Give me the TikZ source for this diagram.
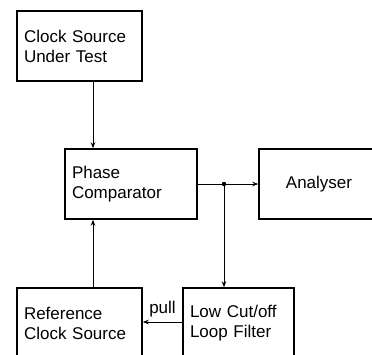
\documentclass[tikz,border=0pt]{standalone}
\usepackage{fontspec}
\setmainfont{Liberation Sans}
\usetikzlibrary{arrows.meta}

\begin{document}
\begin{tikzpicture}[
            x=1pt, y=-1pt,
            blocknode/.style={draw=black, line width=1.5pt, minimum height=70pt, inner xsep=7pt,
                font=\fontsize{17}{20}\selectfont, align=left},
            signal/.style={color=black, line width=0.8pt, -{Stealth[length=6pt, width=4.5pt]}},
            junction/.style={circle, fill=black, inner sep=0pt, minimum size=4.5pt}
        ]
            \useasboundingbox (0, 0) rectangle (372, 354);
            \clip (0, 0) rectangle (372, 354);

            % blocks
            \node[blocknode, text width=111pt] (clock) at (79.5, 46) {Clock Source\\Under Test};
            \node[blocknode, text width=118pt] (phase) at (131, 184) {Phase\\Comparator};
            \node[blocknode, text width=106pt, align=center] (analyser) at (319, 184) {Analyser};
            \node[blocknode, text width=111pt] (reference) at (79.5, 323) {Reference\\Clock Source};
            \node[blocknode, text width=97pt] (filter) at (238.5, 323) {Low Cut/off\\Loop Filter};

            % branch point
            \node[junction] (split) at (224, 184) {};

            % signals
            \draw[signal] ([xshift=13.5pt]clock.south) -- ([xshift=13.5pt]clock.south |- phase.north);
            \draw[signal] ([xshift=13.5pt]reference.north) -- ([xshift=13.5pt]reference.north |- phase.south);
            \draw[line width=0.8pt] (phase.east) -- (split.center);
            \draw[signal] (split.center) -- (analyser.west);
            \draw[signal] (split.center) -- (split |- filter.north);
            \draw[signal] ([yshift=1pt]filter.west) -- ([yshift=1pt]filter.west -| reference.east)
                node[midway, above=1pt, font=\fontsize{17}{20}\selectfont] (pull) {pull};

        \end{tikzpicture}
\end{document}
